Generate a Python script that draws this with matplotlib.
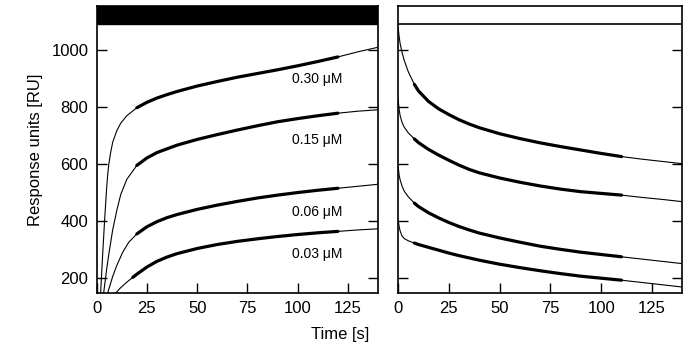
import matplotlib
matplotlib.use("Agg")
import matplotlib.pyplot as plt
from matplotlib.patches import Rectangle

plt.rcParams['font.family'] = ['Liberation Sans', 'DejaVu Sans']

# ---- association phase (left panel) ----
conc_labels = ["0.30 \u03bcM", "0.15 \u03bcM", "0.06 \u03bcM", "0.03 \u03bcM"]
label_y = [895, 684, 432, 284]

assoc_t_030 = [2, 3, 4, 5, 5.5, 6, 7, 8, 10, 12, 15, 20, 25, 30, 35, 40, 50, 60, 70, 80, 90, 100, 110, 120, 130, 140]
assoc_r_030 = [147, 280, 404, 515, 560, 595, 640, 675, 715, 742, 768, 796, 815, 830, 842, 853, 872, 888, 903, 916, 929, 943, 958, 974, 992, 1008]

assoc_t_015 = [3.5, 5, 6, 8, 10, 12, 15, 20, 25, 30, 40, 50, 60, 70, 80, 90, 100, 110, 120, 130, 140]
assoc_r_015 = [147, 230, 280, 368, 435, 492, 545, 594, 620, 639, 665, 685, 702, 718, 733, 747, 758, 768, 777, 784, 789]

assoc_t_006 = [5.5, 8, 10, 13, 16, 20, 25, 30, 35, 40, 50, 60, 70, 80, 90, 100, 110, 120, 130, 140]
assoc_r_006 = [147, 205, 243, 290, 325, 354, 379, 397, 411, 422, 440, 455, 468, 480, 490, 499, 507, 514, 521, 528]

assoc_t_003 = [9.5, 12, 15, 18, 20, 25, 30, 35, 40, 50, 60, 70, 80, 90, 100, 110, 120, 130, 140]
assoc_r_003 = [147, 166, 185, 202, 213, 238, 258, 273, 285, 303, 317, 328, 337, 345, 352, 358, 363, 368, 372]

# ---- dissociation phase (right panel) ----
dissoc_t = [0, 0.5, 1, 2, 3, 5, 8, 10, 15, 20, 25, 30, 35, 40, 50, 60, 70, 80, 90, 100, 110, 120, 130, 140]
dissoc_r_030 = [1077, 1045, 1020, 988, 962, 922, 878, 855, 818, 792, 772, 754, 739, 726, 705, 688, 673, 660, 648, 636, 625, 616, 608, 600]
dissoc_r_015 = [825, 790, 768, 743, 728, 708, 687, 674, 650, 630, 612, 595, 580, 568, 550, 535, 522, 511, 502, 496, 490, 482, 475, 467]
dissoc_r_006 = [590, 560, 543, 520, 504, 484, 462, 450, 428, 410, 394, 380, 368, 357, 340, 325, 311, 300, 290, 282, 274, 266, 258, 250]
dissoc_r_003 = [404, 380, 364, 346, 338, 330, 322, 317, 307, 297, 287, 278, 270, 262, 248, 236, 225, 215, 206, 199, 192, 184, 176, 168]

xticks = [0, 25, 50, 75, 100, 125]
yticks = [200, 400, 600, 800, 1000]
xlim = (0, 140)
ylim = (147, 1152)
bar_bottom = 1088
fit_window_assoc = (17, 120)
fit_window_dissoc = (8, 110)

fig = plt.figure(figsize=(6.9, 3.6), dpi=100)
axL = fig.add_axes([0.140, 0.186, 0.408, 0.797])
axR = fig.add_axes([0.577, 0.186, 0.412, 0.797])


def draw(ax, t, r, window):
    ax.plot(t, r, color='black', lw=0.8, solid_capstyle='butt')
    tt = [a for a in t if window[0] <= a <= window[1]]
    rr = [b for a, b in zip(t, r) if window[0] <= a <= window[1]]
    ax.plot(tt, rr, color='black', lw=2.3, solid_capstyle='round', solid_joinstyle='round')


for t, r in [(assoc_t_030, assoc_r_030), (assoc_t_015, assoc_r_015),
             (assoc_t_006, assoc_r_006), (assoc_t_003, assoc_r_003)]:
    draw(axL, t, r, fit_window_assoc)

for r in [dissoc_r_030, dissoc_r_015, dissoc_r_006, dissoc_r_003]:
    draw(axR, dissoc_t, r, fit_window_dissoc)

for lab, y in zip(conc_labels, label_y):
    axL.text(97, y, lab, fontsize=10, ha='left', va='center')

for ax in (axL, axR):
    ax.set_xlim(*xlim)
    ax.set_ylim(*ylim)
    ax.set_xticks(xticks)
    ax.set_yticks(yticks)
    ax.tick_params(direction='in', length=7, width=1.0, labelsize=12,
                   left=True, right=True, top=False, bottom=True, pad=6)
    for s in ax.spines.values():
        s.set_linewidth(1.2)

axL.add_patch(Rectangle((xlim[0], bar_bottom), xlim[1] - xlim[0], ylim[1] - bar_bottom,
                        facecolor='black', edgecolor='black', lw=1.0, zorder=5))
axR.add_patch(Rectangle((xlim[0], bar_bottom), xlim[1] - xlim[0], ylim[1] - bar_bottom,
                        facecolor='white', edgecolor='black', lw=1.2, zorder=5))

axR.set_yticklabels([])
axL.set_ylabel("Response units [RU]", fontsize=12, labelpad=6)
fig.text(0.493, 0.07, "Time [s]", fontsize=12, ha='center', va='center')

fig.savefig("out.png", dpi=100)
